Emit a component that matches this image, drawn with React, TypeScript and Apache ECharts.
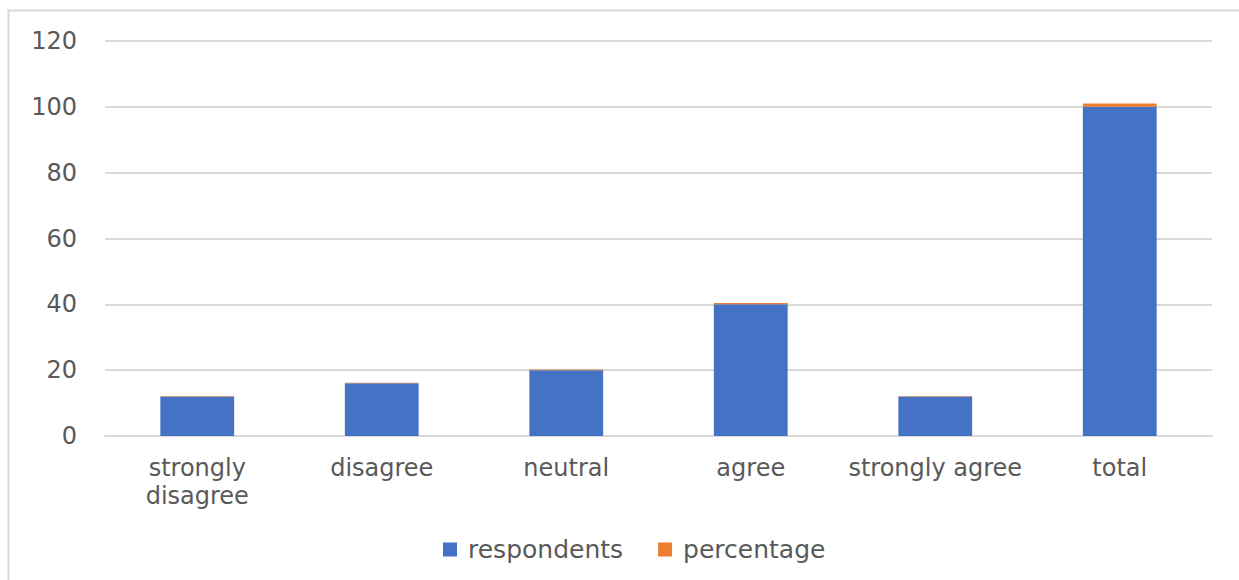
import React, { useEffect, useRef } from "react";
import * as echarts from "echarts";

const categories = ["strongly disagree", "disagree", "neutral", "agree", "strongly agree", "total"];
const respondents = [12, 16, 20, 40, 12, 100];
const percentage = [0.12, 0.16, 0.2, 0.4, 0.12, 1];
const yTicks = { min: 0, max: 120, interval: 20 };

const FONT = "'DejaVu Sans', 'Open Sans', sans-serif";

export default function App() {
  const ref = useRef<HTMLDivElement>(null);
  useEffect(() => {
    if (!ref.current) return;
    const chart = echarts.init(ref.current, undefined, { renderer: "svg" });
    chart.setOption({
      animation: false,
      backgroundColor: "#ffffff",
      textStyle: { fontFamily: FONT },
      graphic: [
        {
          type: "rect",
          shape: { x: 8.5, y: 10.5, width: 1240, height: 580 },
          style: { fill: "none", stroke: "#d9d9d9", lineWidth: 2 },
          silent: true,
        },
      ],
      grid: { left: 105, right: 27, top: 41, bottom: 144 },
      legend: {
        top: 532,
        left: 438,
        itemWidth: 14,
        itemHeight: 14,
        itemGap: 35,
        icon: "rect",
        textStyle: { fontSize: 25, color: "#595959", fontFamily: FONT, padding: [0, 0, 0, 6] },
        data: ["respondents", "percentage"],
      },
      xAxis: {
        type: "category",
        data: categories,
        axisLine: { lineStyle: { color: "#d9d9d9", width: 2 } },
        axisTick: { show: false },
        axisLabel: {
          fontSize: 24,
          color: "#595959",
          margin: 18,
          lineHeight: 28,
          interval: 0,
          fontFamily: FONT,
          formatter: (v: string) => (v.length > 15 ? v.replace(" ", "\n") : v),
        },
      },
      yAxis: {
        type: "value",
        min: yTicks.min,
        max: yTicks.max,
        interval: yTicks.interval,
        axisLine: { show: false },
        axisTick: { show: false },
        splitLine: { lineStyle: { color: "#d9d9d9", width: 2 } },
        axisLabel: { fontSize: 24, color: "#595959", margin: 28, fontFamily: FONT },
      },
      series: [
        {
          name: "respondents",
          type: "bar",
          stack: "s",
          data: respondents,
          barWidth: "40%",
          itemStyle: { color: "#4472c4" },
        },
        {
          name: "percentage",
          type: "bar",
          stack: "s",
          data: percentage,
          barWidth: "40%",
          itemStyle: { color: "#ed7d31" },
        },
      ],
    });
    return () => chart.dispose();
  }, []);
  return (
    <div
      ref={ref}
      style={{ position: "absolute", left: 0, top: 0, width: 1239, height: 580 }}
    />
  );
}
